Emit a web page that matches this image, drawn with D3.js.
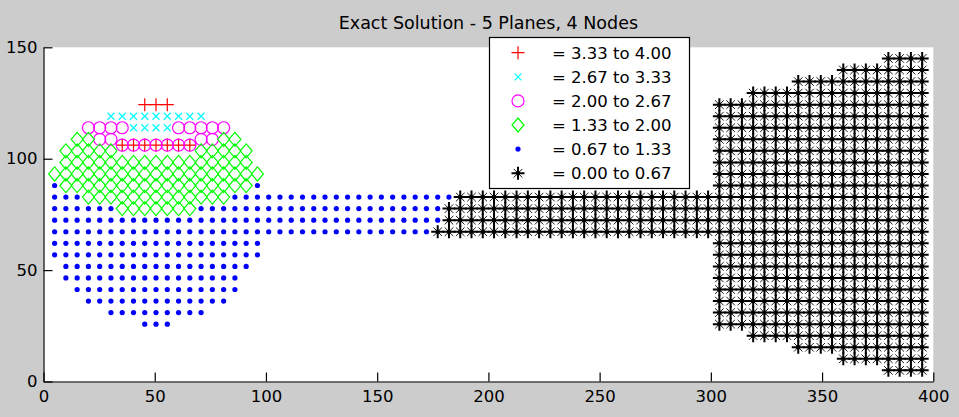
<!DOCTYPE html>
<html>
<head>
<meta charset="utf-8">
<script src="https://cdn.jsdelivr.net/npm/d3@7"></script>
<style>
  body { margin: 0; background: #cccccc; }
  text { font-family: "DejaVu Sans", sans-serif; fill: #000; }
</style>
</head>
<body>
<svg id="chart" width="959" height="417"></svg>
<script>
// Mesh: 78 node columns from x=5 to x=395, 28 node rows from y=5 to y=145
var mesh_x = [5, 395, 78];
var mesh_y = [5, 145, 28];

// Value bands (legend order = draw order)
var band_labels = ["= 3.33 to 4.00", "= 2.67 to 3.33", "= 2.00 to 2.67",
                   "= 1.33 to 2.00", "= 0.67 to 1.33", "= 0.00 to 0.67"];
var band_markers = ["+", "x", "o", "d", ".", "*"];

// Nodes in each band, as row spans: [row, first column, last column]
// (row 19.5 = nodes of a plane that sits between mesh rows)
var band_33_40 = [[23, 8, 10], [19.5, 6, 12]];
var band_27_33 = [[22, 5, 13], [21, 7, 10]];
var band_20_27 = [[21, 3, 6], [21, 11, 15], [20, 4, 5], [20, 13, 14], [19.5, 6, 12]];
var band_13_20 = [[20, 2, 3], [20, 15, 16], [19, 1, 5], [19, 13, 17], [18, 1, 17], [17, 0, 18],
                  [16, 1, 17], [15, 3, 15], [14, 6, 12]];
var band_07_13 = [[16, 0, 0], [16, 18, 18], [15, 0, 2], [15, 16, 35], [14, 0, 5], [14, 13, 34],
                  [13, 0, 34], [12, 0, 33], [11, 0, 18], [10, 0, 18], [9, 1, 17], [8, 1, 16],
                  [7, 2, 16], [6, 3, 15], [5, 5, 13], [4, 8, 10]];
var band_00_07 = [[27, 74, 77], [26, 70, 77], [25, 66, 77], [24, 62, 77],
                  [23, 59, 77], [22, 59, 77], [21, 59, 77], [20, 59, 77], [19, 59, 77],
                  [18, 59, 77], [17, 59, 77], [16, 59, 77],
                  [15, 36, 77], [14, 35, 77], [13, 35, 77], [12, 34, 77],
                  [11, 59, 77], [10, 59, 77], [9, 59, 77], [8, 59, 77], [7, 59, 77],
                  [6, 59, 77], [5, 59, 77], [4, 59, 77],
                  [3, 62, 77], [2, 66, 77], [1, 70, 77], [0, 74, 77]];
var band_spans = [band_33_40, band_27_33, band_20_27, band_13_20, band_07_13, band_00_07];

var x_ticks = [0, 50, 100, 150, 200, 250, 300, 350, 400];
var y_ticks = [0, 50, 100, 150];

// styles
var band_colors = ["#ff0000", "#00ffff", "#ff00ff", "#00ff00", "#0000ff", "#000000"];

var svg = d3.select("#chart");
svg.append("rect").attr("width", 959).attr("height", 417).attr("fill", "#cccccc");

var plot_left = 43.5, plot_right = 933.3, plot_top = 47.3, plot_bottom = 381.5;

var x = d3.scaleLinear().domain([0, 400]).range([plot_left, plot_right]);
var y = d3.scaleLinear().domain([0, 150]).range([plot_bottom, plot_top]);

// node index -> data coordinate
var col_scale = d3.scaleLinear().domain([0, mesh_x[2] - 1]).range([mesh_x[0], mesh_x[1]]);
var row_scale = d3.scaleLinear().domain([0, mesh_y[2] - 1]).range([mesh_y[0], mesh_y[1]]);

svg.append("rect")
    .attr("x", plot_left).attr("y", plot_top)
    .attr("width", plot_right - plot_left).attr("height", plot_bottom - plot_top)
    .attr("fill", "#ffffff");

// Marker shapes, MATLAB style
function draw_marker(g, m, color) {
    if (m == "*") {
        g.append("path").attr("d", "M-6.5,0H6.5M0,-6.5V6.5")
            .attr("fill", "none").attr("stroke", color).attr("stroke-width", 2);
        g.append("path").attr("d", "M-4.3,-4.3L4.3,4.3M-4.3,4.3L4.3,-4.3")
            .attr("fill", "none").attr("stroke", color).attr("stroke-width", 0.9);
        g.append("circle").attr("r", 2.2).attr("fill", color);
        return;
    }
    var d;
    if (m == "+") d = "M-6.5,0H6.5M0,-6.5V6.5";
    if (m == "x") d = "M-3.5,-3.5L3.5,3.5M-3.5,3.5L3.5,-3.5";
    if (m == "o") d = "M6,0A6,6 0 1,1 -6,0A6,6 0 1,1 6,0Z";
    if (m == "d") d = "M0,-7L6,0L0,7L-6,0Z";
    if (m == ".") d = "M2.6,0A2.6,2.6 0 1,1 -2.6,0A2.6,2.6 0 1,1 2.6,0Z";
    g.append("path")
        .attr("d", d)
        .attr("fill", m == "." ? color : "none")
        .attr("stroke", m == "." ? "none" : color)
        .attr("stroke-width", 1.2);
}

var points_g = svg.append("g");
band_spans.forEach(function (spans, b) {
    var nodes = [];
    spans.forEach(function (s) {
        for (var c = s[1]; c <= s[2]; c++) nodes.push([col_scale(c), row_scale(s[0])]);
    });
    points_g.append("g").selectAll("g")
        .data(nodes)
        .enter().append("g")
        .attr("transform", function (d) { return "translate(" + x(d[0]) + "," + y(d[1]) + ")"; })
        .each(function () { draw_marker(d3.select(this), band_markers[b], band_colors[b]); });
});

// Axes (ticks point inward, no box)
var x_axis = svg.append("g")
    .attr("transform", "translate(0," + plot_bottom + ")")
    .call(d3.axisBottom(x).tickValues(x_ticks).tickSize(-9).tickSizeOuter(0).tickPadding(9));
var y_axis = svg.append("g")
    .attr("transform", "translate(" + plot_left + ",0)")
    .call(d3.axisLeft(y).tickValues(y_ticks).tickSize(-9).tickSizeOuter(0).tickPadding(6));
[x_axis, y_axis].forEach(function (a) {
    a.selectAll("path, line").attr("stroke", "#000").attr("stroke-width", 1.2);
    a.selectAll("text").style("font-family", "DejaVu Sans, sans-serif")
        .style("font-size", "16.5px").attr("fill", "#000");
});

// Title
svg.append("text")
    .attr("x", (plot_left + plot_right) / 2).attr("y", 29)
    .attr("text-anchor", "middle")
    .style("font-size", "17.5px")
    .text("Exact Solution - 5 Planes, 4 Nodes");

// Legend
var legend = svg.append("g");
legend.append("rect")
    .attr("x", 489.5).attr("y", 37.5).attr("width", 200).attr("height", 151)
    .attr("fill", "#ffffff").attr("stroke", "#000").attr("stroke-width", 1.2);
band_labels.forEach(function (label, i) {
    var row_y = 52.7 + i * 24.1;
    var g = legend.append("g").attr("transform", "translate(518," + row_y + ")");
    draw_marker(g, band_markers[i], band_colors[i]);
    legend.append("text")
        .attr("x", 552).attr("y", row_y + 6)
        .style("font-size", "16.5px")
        .text(label);
});
</script>
</body>
</html>
